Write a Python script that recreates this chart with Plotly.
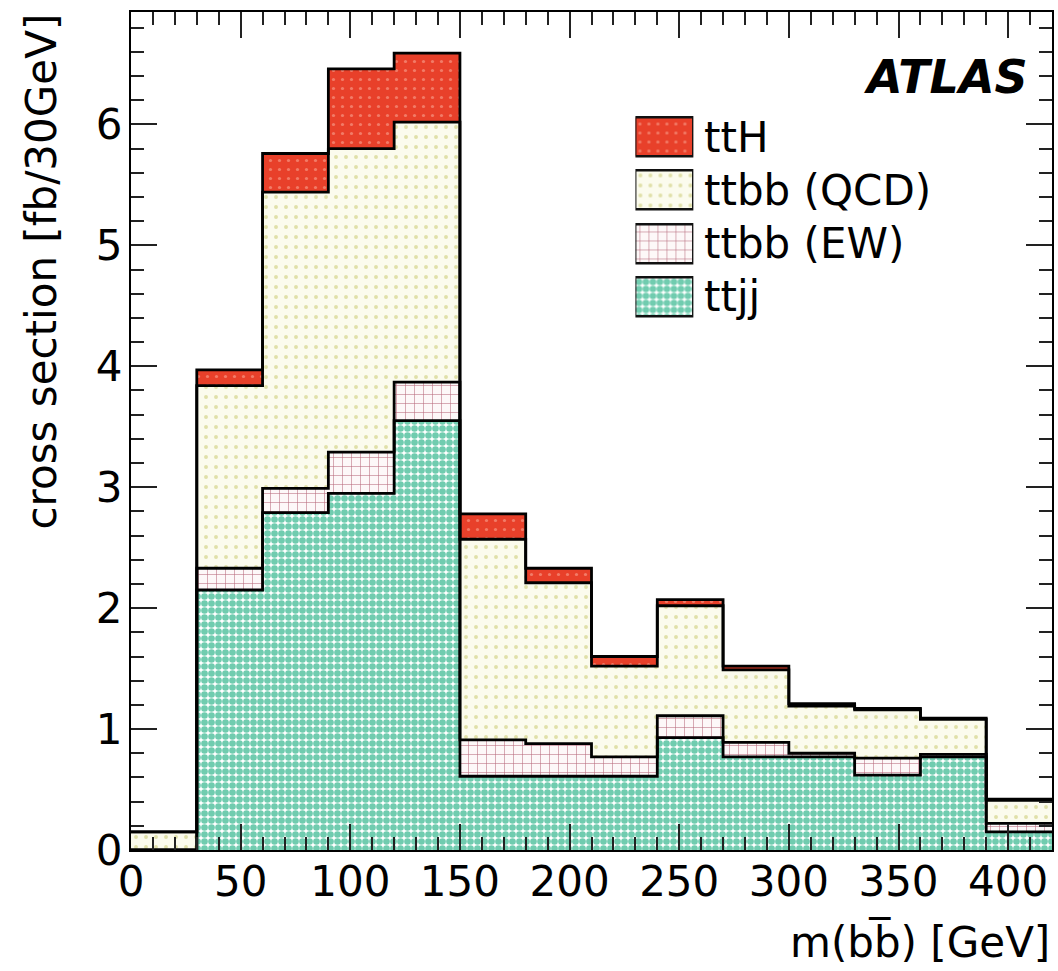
import numpy as np
import plotly.graph_objects as go

# ---- data (cross section per 30 GeV bin, fb) ----
bin_edges = [0, 30, 60, 90, 120, 150, 180, 210, 240, 270, 300, 330, 360, 390, 420]
ttjj     = [0.00, 2.15, 2.79, 2.95, 3.55, 0.61, 0.61, 0.61, 0.93, 0.77, 0.77, 0.62, 0.77, 0.15]
ttbb_ew  = [0.00, 0.18, 0.20, 0.34, 0.32, 0.30, 0.27, 0.16, 0.18, 0.12, 0.03, 0.14, 0.02, 0.07]
ttbb_qcd = [0.15, 1.51, 2.45, 2.51, 2.15, 1.66, 1.33, 0.75, 0.91, 0.60, 0.39, 0.40, 0.29, 0.19]
tth      = [0.00, 0.13, 0.32, 0.66, 0.57, 0.21, 0.12, 0.08, 0.05, 0.03, 0.02, 0.01, 0.01, 0.01]

names = ["ttjj", "ttbb (EW)", "ttbb (QCD)", "ttH"]
x_ticks = [0, 50, 100, 150, 200, 250, 300, 350, 400]
y_ticks = [0, 1, 2, 3, 4, 5, 6]

FONT = "DejaVu Sans"
FS = 42

styles = {
    "ttjj":       dict(shape=".", bgcolor="#ffffff", fgcolor="#70ccaf", size=7, solidity=0.7),
    "ttbb (EW)":  dict(shape="+", bgcolor="#fdf8f8", fgcolor="#b86a7c", size=9, solidity=0.12),
    "ttbb (QCD)": dict(shape=".", bgcolor="#fbfbed", fgcolor="#e0e0a8", size=10, solidity=0.12),
    "ttH":        dict(shape=".", bgcolor="#e8402a", fgcolor="#f27b67", size=9, solidity=0.1),
}

edges = np.array(bin_edges, dtype=float)
centers = (edges[:-1] + edges[1:]) / 2
widths = np.diff(edges)
layers = [np.array(ttjj), np.array(ttbb_ew), np.array(ttbb_qcd), np.array(tth)]

fig = go.Figure()

base = np.zeros(len(centers))
tops = []
for name, vals in zip(names, layers):
    st = styles[name]
    fig.add_trace(go.Bar(
        x=centers, y=vals, base=base.copy(), width=widths,
        marker=dict(color=st["bgcolor"], line=dict(width=0),
                    pattern=dict(fillmode="replace", **st)),
        showlegend=False, name=name, hoverinfo="skip"))
    base = base + vals
    tops.append(base.copy())

# step outlines of every stacked layer
for t in tops:
    fig.add_trace(go.Scatter(
        x=edges, y=np.append(t, t[-1]), mode="lines",
        line=dict(color="black", width=2.8, shape="hv"),
        showlegend=False, hoverinfo="skip"))

# ---- legend drawn as swatches on an auxiliary axis ----
legend_order = ["ttH", "ttbb (QCD)", "ttbb (EW)", "ttjj"]
for i, name in enumerate(legend_order):
    st = styles[name]
    fig.add_trace(go.Bar(
        x=[1], y=[i], base=[0], width=[0.73], orientation="h",
        xaxis="x2", yaxis="y2",
        marker=dict(color=st["bgcolor"], line=dict(color="#111111", width=2.4),
                    pattern=dict(fillmode="replace", **st)),
        showlegend=False, hoverinfo="skip"))
    fig.add_annotation(x=1, y=i, xref="x2", yref="y2", text=name,
                       showarrow=False, xanchor="left", yanchor="middle", xshift=9,
                       font=dict(family=FONT, size=FS, color="black"))

axis_common = dict(
    showline=True, linecolor="black", linewidth=2, mirror="ticks",
    ticks="inside", tickcolor="#222222", tickwidth=2, ticklen=26,
    showgrid=False, zeroline=False,
    tickfont=dict(family=FONT, size=FS, color="black"),
)

fig.update_layout(
    width=1058, height=971, autosize=False,
    margin=dict(l=131, r=4, t=12, b=121),
    paper_bgcolor="white", plot_bgcolor="white",
    barmode="overlay", bargap=0,
    showlegend=False,
    xaxis=dict(range=[0, 420], tickvals=x_ticks, ticktext=[str(v) for v in x_ticks],
               minor=dict(dtick=10, ticks="inside", ticklen=13, tickcolor="#222222", tickwidth=2),
               ticklabelstandoff=-6, **axis_common),
    yaxis=dict(range=[0, 6.93], tickvals=y_ticks, ticktext=[str(v) for v in y_ticks],
               minor=dict(dtick=0.2, ticks="inside", ticklen=13, tickcolor="#222222", tickwidth=2),
               ticklabelstandoff=-2, **axis_common),
    xaxis2=dict(domain=[0.5477, 0.6106], range=[0, 1], visible=False, fixedrange=True),
    yaxis2=dict(domain=[0.6283, 0.8825], range=[3.5, -0.5], visible=False, fixedrange=True),
)

# ATLAS label
fig.add_annotation(x=1, y=1, xref="paper", yref="paper", text="<b><i>ATLAS</i></b>",
                   showarrow=False, xanchor="right", yanchor="top", xshift=-22, yshift=-36,
                   font=dict(family=FONT, size=46, color="black"))
# axis titles
fig.add_annotation(x=0, y=1, xref="paper", yref="paper", text="cross section [fb/30GeV]",
                   textangle=-90, showarrow=False, xanchor="right", yanchor="top", xshift=-64,
                   font=dict(family=FONT, size=FS, color="black"))
fig.add_annotation(x=1, y=0, xref="paper", yref="paper",
                   text="m(bb\u0305) [GeV]",
                   showarrow=False, xanchor="right", yanchor="middle", yshift=-92,
                   font=dict(family=FONT, size=FS, color="black"))

fig.write_html("out.html", config={"displayModeBar": False},
               post_script="document.body.style.margin='0';document.body.style.overflow='hidden';")
